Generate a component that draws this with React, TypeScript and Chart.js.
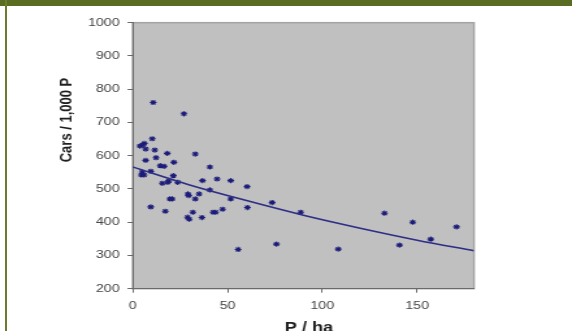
import React, { useEffect, useRef } from 'react';
import { Chart, registerables } from 'chart.js';

Chart.register(...registerables);

// Population density (persons / ha) and car ownership (cars / 1,000 persons)
const densityPha = [
  10.8, 27, 10.3, 6.1, 5.3, 3.8, 6.8, 11.6, 18.2, 33,
  6.8, 12.3, 21.7, 14.5, 16.5, 40.7, 5, 6, 4.5, 9.5,
  21.4, 44.5, 36.8, 51.7, 19, 18.4, 23.7, 15.6, 40.7, 60.3,
  29.1, 29.5, 35, 33, 51.7, 73.5, 19.6, 20.8, 60.5, 9.5,
  17.2, 31.7, 42.4, 43.7, 47.4, 28.9, 29.8, 36.5, 55.6, 88.6,
  75.8, 108.4, 132.8, 147.7, 140.7, 157.2, 170.8,
];
const carsPer1000 = [
  760, 726, 651, 637, 632, 629, 620, 617, 607, 605,
  586, 594, 580, 570, 568, 566, 551, 542, 542, 553,
  540, 530, 525, 525, 524, 520, 520, 517, 497, 507,
  485, 480, 485, 470, 470, 459, 470, 470, 444, 446,
  433, 430, 430, 430, 439, 415, 409, 414, 318, 430,
  334, 319, 427, 400, 331, 349, 386,
];
// Trend curve
const trendX = [0, 30, 60, 90, 120, 150, 180];
const trendY = [566, 512, 465, 421, 382, 346, 314];

const xTitle = 'P / ha';
const yTitle = 'Cars / 1,000 P';

const STRETCH = 1.3;
const W = 572;
const H = 331;
const IW = Math.round(W / STRETCH);

export default function App() {
  const ref = useRef<HTMLCanvasElement | null>(null);

  useEffect(() => {
    const canvas = ref.current;
    if (!canvas) return;
    canvas.width = IW;
    canvas.height = H;
    canvas.style.width = W + 'px';
    canvas.style.height = H + 'px';

    const plotBg = {
      id: 'plotBg',
      beforeDraw(chart: any) {
        const { ctx, chartArea: a } = chart;
        ctx.save();
        ctx.fillStyle = '#c0c0c0';
        ctx.fillRect(a.left, a.top, a.right - a.left, a.bottom - a.top);
        ctx.strokeStyle = '#a4a4a4';
        ctx.lineWidth = 1.5;
        ctx.strokeRect(a.left, a.top, a.right - a.left, a.bottom - a.top);
        ctx.restore();
      },
      afterDraw(chart: any) {
        const { ctx } = chart;
        ctx.save();
        ctx.fillStyle = '#1e1e1e';
        ctx.font = 'bold 13px "Liberation Sans", Arial, sans-serif';
        ctx.textAlign = 'center';
        ctx.textBaseline = 'middle';
        ctx.translate(51.5, 120);
        ctx.rotate(-Math.PI / 2);
        ctx.fillText(yTitle, 0, 0);
        ctx.restore();
        ctx.save();
        ctx.fillStyle = '#1e1e1e';
        ctx.font = 'bold 14px "Liberation Sans", Arial, sans-serif';
        ctx.textAlign = 'center';
        ctx.textBaseline = 'alphabetic';
        ctx.fillText(xTitle, 237.7, 332);
        ctx.restore();
      },
    };

    const chart = new Chart(canvas, {
      type: 'scatter',
      data: {
        datasets: [
          {
            type: 'line',
            data: trendX.map((x, i) => ({ x, y: trendY[i] })),
            borderColor: '#2e2e86',
            borderWidth: 1.6,
            pointRadius: 0,
            tension: 0.4,
            cubicInterpolationMode: 'monotone',
            showLine: true,
            fill: false,
          } as any,
          {
            data: densityPha.map((x, i) => ({ x, y: carsPer1000[i] })),
            pointStyle: 'star',
            radius: 2.6,
            borderWidth: 1.1,
            borderColor: '#1c1c7a',
            backgroundColor: '#1c1c7a',
          } as any,
        ],
      },
      options: {
        animation: false,
        responsive: false,
        devicePixelRatio: 1,
        layout: { padding: { top: 22.7, right: IW - 364.6, left: 0, bottom: 0 } },
        plugins: { legend: { display: false }, tooltip: { enabled: false } },
        scales: {
          x: {
            type: 'linear',
            min: 0,
            max: 180,
            afterFit: (s: any) => { s.height = H - 288.7; },
            border: { display: true, color: '#6a6a6a', width: 1 },
            grid: { drawOnChartArea: false, drawTicks: true, tickLength: 4, color: '#6a6a6a' },
            ticks: {
              stepSize: 50,
              includeBounds: false,
              padding: 7,
              color: '#444',
              font: { family: '"Liberation Sans", Arial, sans-serif', size: 11 },
              maxRotation: 0,
              callback: (v: any) => String(v),
            },
          },
          y: {
            type: 'linear',
            min: 200,
            max: 1000,
            afterFit: (s: any) => { s.width = 102.1; },
            border: { display: true, color: '#6a6a6a', width: 1 },
            grid: { drawOnChartArea: false, drawTicks: true, tickLength: 4, color: '#6a6a6a' },
            ticks: {
              stepSize: 100,
              padding: 6,
              color: '#444',
              font: { family: '"Liberation Sans", Arial, sans-serif', size: 11 },
              callback: (v: any) => String(v),
            },
          },
        },
      },
      plugins: [plotBg],
    } as any);

    return () => chart.destroy();
  }, []);

  return (
    <div style={{ position: 'fixed', left: 0, top: 0, width: W, height: H, background: '#fff', overflow: 'hidden' }}>
      <canvas ref={ref} style={{ position: 'absolute', left: 0, top: 0, width: W, height: H }} />
      <div style={{ position: 'absolute', left: 0, top: 0, width: W, height: 6, background: '#5a6c22' }} />
      <div style={{ position: 'absolute', left: 5, top: 0, width: 2, height: H, background: '#6b7d2c' }} />
    </div>
  );
}
